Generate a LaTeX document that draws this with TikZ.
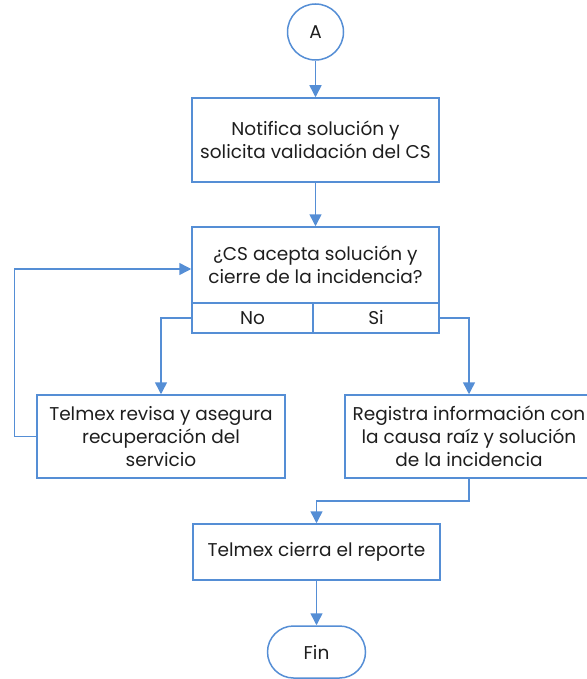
\documentclass[tikz,border=0pt]{standalone}
\usepackage{fontspec}
\setmainfont{Poppins}
\usetikzlibrary{arrows.meta, positioning}
\definecolor{lineblue}{RGB}{85,142,213}
\definecolor{textgray}{RGB}{30,30,30}

\begin{document}
\begin{tikzpicture}[
  font=\fontsize{18.5}{23}\selectfont, text=textgray,
  connector/.style={circle, minimum size=56pt, inner sep=0pt, text centered, draw=lineblue, line width=1.5pt},
  process/.style={rectangle, minimum width=247pt, minimum height=84pt, inner sep=0pt, text centered, align=center, draw=lineblue, line width=1.5pt},
  cell/.style={rectangle, minimum height=30pt, inner sep=0pt, text centered, draw=lineblue, line width=1.5pt},
  terminal/.style={rectangle, rounded corners=26pt, minimum width=98pt, minimum height=52pt, text centered, draw=lineblue, line width=1.5pt},
  arrow/.style={draw=lineblue, line width=1.5pt, -{Triangle[width=12pt,length=12pt]}}]

  \useasboundingbox (0,0) rectangle (586pt,-679pt);

  % Nodes
  \node (circA) [connector] at (315.5pt,-32pt) {A};
  \node (notifica) [process, below of=circA, node distance=108pt] {Notifica solución y \\ solicita validación del CS};
  \node (pregunta) [process, minimum height=76pt, below of=notifica, node distance=125pt] {¿CS acepta solución y \\ cierre de la incidencia?};
  \node (no) [cell, minimum width=121pt, below of=pregunta, node distance=53pt, xshift=-63pt] {No};
  \node (si) [cell, minimum width=126pt, below of=pregunta, node distance=53pt, xshift=60.5pt] {Si};

  \node (revisa) [process, minimum width=248pt, minimum height=83pt, below of=no, node distance=118.5pt, xshift=-91.5pt] {Telmex revisa y asegura \\ recuperación del \\ servicio};
  \node (registra) [process, minimum width=248pt, minimum height=83pt, below of=si, node distance=118.5pt, xshift=93pt] {Registra información con \\ la causa raíz y solución \\ de la incidencia};

  \node (cierra) [process, minimum height=56pt, below of=registra, node distance=115.5pt, xshift=-152.5pt] {Telmex cierra el reporte};
  \node (fin) [terminal, below of=cierra, node distance=100pt] {Fin};

  % Arrows
  \draw [arrow] (circA) -- (notifica);
  \draw [arrow] (notifica) -- (pregunta);

  \draw [arrow] (no.west) -| (revisa.north);
  \draw [arrow] (si.east) -| (registra.north);
  \draw [arrow] (revisa.west) -- ++(-22pt,0) |- ([yshift=-4pt]pregunta.west);

  \draw [arrow] (registra.south) -- ++(0,-22pt) -| (cierra.north);
  \draw [arrow] (cierra) -- (fin);
\end{tikzpicture}
\end{document}
